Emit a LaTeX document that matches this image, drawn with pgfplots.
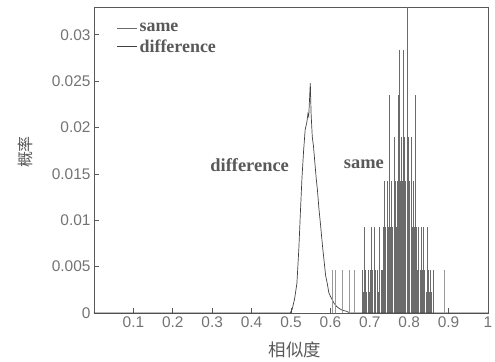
\documentclass[border=0pt]{standalone}
\usepackage{pgfplots}
\pgfplotsset{compat=1.18}
\usepackage{pgfplotstable}
\usepackage{fontspec}
\setmainfont{Liberation Serif}
\setsansfont{Liberation Sans}
\newfontfamily\cjk{Noto Sans CJK SC}
\definecolor{axgray}{gray}{0.35}
\definecolor{tkgray}{gray}{0.45}
\definecolor{samegray}{gray}{0.42}
\definecolor{lightstem}{gray}{0.6}
\definecolor{diffgray}{gray}{0.25}

% same: stems (x, probability)
\pgfplotstableread{
x y
0.680 0.0046
0.683 0.0023
0.686 0.0093
0.689 0.0046
0.692 0.0023
0.695 0.0046
0.698 0.0023
0.701 0.0046
0.704 0.0093
0.707 0.0046
0.710 0.0023
0.712 0.0093
0.715 0.0046
0.718 0.0046
0.721 0.0023
0.725 0.0093
0.728 0.0046
0.731 0.0046
0.734 0.0093
0.737 0.0142
0.740 0.0093
0.743 0.0142
0.746 0.0093
0.749 0.0235
0.752 0.0093
0.755 0.0142
0.758 0.0093
0.761 0.0190
0.764 0.0142
0.767 0.0093
0.770 0.0142
0.772 0.0235
0.774 0.0284
0.777 0.0142
0.780 0.0190
0.783 0.0142
0.785 0.0284
0.788 0.0190
0.791 0.0142
0.795 0.0360
0.798 0.0190
0.801 0.0142
0.804 0.0190
0.807 0.0093
0.810 0.0142
0.813 0.0093
0.815 0.0235
0.818 0.0093
0.821 0.0046
0.824 0.0093
0.827 0.0046
0.830 0.0093
0.833 0.0046
0.836 0.0093
0.839 0.0046
0.842 0.0023
0.845 0.0093
0.848 0.0046
0.851 0.0023
0.854 0.0046
0.857 0.0023
0.860 0.0046
}\samedata

% same: isolated light stems
\pgfplotstableread{
x y
0.605 0.0046
0.613 0.0046
0.631 0.0046
0.648 0.0046
0.660 0.0046
0.889 0.0046
}\sameloose

% difference: distribution curve
\pgfplotstableread{
x y
0.000 0.0000
0.498 0.0000
0.503 0.0004
0.509 0.0015
0.515 0.0032
0.520 0.0070
0.524 0.0110
0.528 0.0147
0.532 0.0175
0.536 0.0198
0.540 0.0205
0.543 0.0215
0.545 0.0212
0.547 0.0230
0.549 0.0248
0.551 0.0215
0.554 0.0190
0.557 0.0180
0.560 0.0165
0.564 0.0145
0.567 0.0133
0.571 0.0112
0.575 0.0095
0.580 0.0072
0.585 0.0052
0.588 0.0040
0.592 0.0032
0.596 0.0022
0.600 0.0018
0.605 0.0014
0.610 0.0010
0.616 0.0007
0.622 0.0005
0.630 0.0003
0.640 0.0002
0.650 0.0000
1.000 0.0000
}\diffdata

\begin{document}
\begin{tikzpicture}
\path[use as bounding box] (-94bp,-49bp) rectangle (401bp,313bp);
\begin{axis}[
  scale only axis,
  width=394bp, height=306bp,
  at={(0,0)}, anchor=south west,
  xmin=0, xmax=1, ymin=0, ymax=0.033,
  xtick={0.1,0.2,0.3,0.4,0.5,0.6,0.7,0.8,0.9,1},
  ytick={0,0.005,0.01,0.015,0.02,0.025,0.03},
  scaled y ticks=false,
  xticklabel style={/pgf/number format/fixed},
  yticklabel style={/pgf/number format/fixed,/pgf/number format/precision=3},
  /pgf/number format/assume math mode=true,
  tick label style={font=\fontsize{15.5}{17}\sffamily, text=tkgray},
  xtick pos=left, ytick pos=left,
  tick align=inside,
  major tick length=5bp,
  tick style={axgray, line width=0.7pt},
  axis line style={axgray, line width=0.8pt},
  xlabel={\cjk 相似度},
  ylabel={\cjk 概率},
  xlabel style={at={(axis description cs:0.51,0)}, anchor=center, yshift=-37bp, font=\fontsize{17.5}{19}\selectfont, text=axgray},
  ylabel style={at={(axis description cs:-0.175,0.526)}, anchor=center, font=\fontsize{16}{18}\selectfont, text=axgray},
  legend style={at={(axis description cs:0.05,0.962)}, anchor=north west, draw=none, fill=none,
    font=\fontsize{18}{19}\bfseries, text=axgray, row sep=3bp},
  legend cell align=left,
  legend image code/.code={\draw[#1] (0bp,0bp) -- (20bp,0bp);},
  clip=true,
]
\addplot[ycomb, samegray, line width=0.45pt, mark=none] table[x=x,y=y] {\samedata};
\addlegendentry{same}
\addplot[diffgray, line width=0.7pt, mark=none] table[x=x,y=y] {\diffdata};
\addlegendentry{difference}
\addplot[ycomb, lightstem, line width=0.45pt, mark=none, forget plot] table[x=x,y=y] {\sameloose};
\node[font=\fontsize{18.5}{19}\bfseries, text=axgray] at (axis cs:0.395,0.0160) {difference};
\node[font=\fontsize{18.5}{19}\bfseries, text=axgray] at (axis cs:0.685,0.0160) {same};
\end{axis}
\end{tikzpicture}
\end{document}
